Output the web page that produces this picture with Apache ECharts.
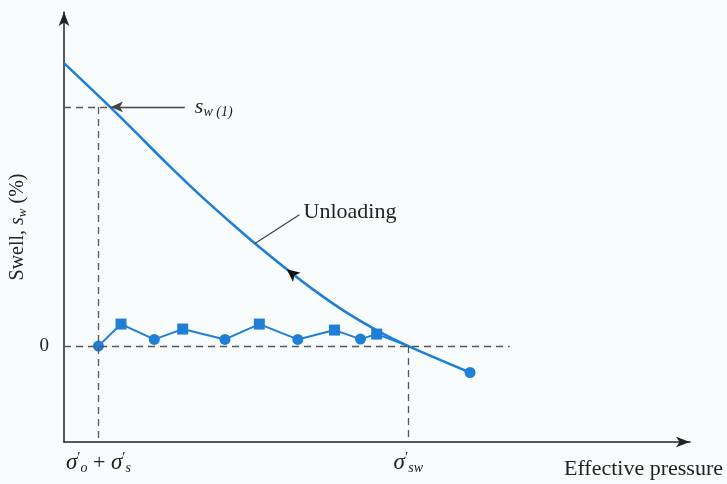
<!DOCTYPE html>
<html>
<head>
<meta charset="utf-8">
<script src="https://cdn.jsdelivr.net/npm/echarts@6/dist/echarts.min.js"></script>
<style>html,body{margin:0;padding:0;background:#f8fcfc;}#c{width:727px;height:484px;}</style>
</head>
<body>
<div id="c"></div>
<script>
// Unloading curve (effective pressure, swell)
const unloadX = [0, 7.35, 11.07, 16.41, 21.73, 27.04, 30.51, 35.58, 39.82, 45.16, 50.48, 55.0, 64.86];
const unloadY = [8.47, 7.16, 6.47, 5.47, 4.52, 3.63, 3.07, 2.30, 1.69, 1.00, 0.42, 0, -0.79];
// Swell test points (alternating circle / square), last point joins curve
const swellX = [5.5, 9.11, 14.42, 18.96, 25.72, 31.2, 37.35, 43.21, 47.36, 49.95, 55.0];
const swellY = [0, 0.66, 0.2, 0.51, 0.2, 0.66, 0.2, 0.48, 0.21, 0.36, 0];
const endPoint = [64.86, -0.79];
// Key abscissae and ordinates
const sigmaStart = 5.5;   // σ'o + σ's
const sigmaSw = 55.0;     // σ'sw
const sw1 = 7.16;         // s_w(1)
const sw1X = 7.1;
const zeroLineEnd = 71.2;
const xTickValues = [sigmaStart, sigmaSw];
const yTickValues = [0];

const blue = '#1f7fd6';
const serif = 'Liberation Serif, Times New Roman, serif';
const ink = '#222';

const chart = echarts.init(document.getElementById('c'));
const dash = {type: [7, 5], color: '#555', width: 1.3};
const yMin = -2.87;
chart.setOption({
  backgroundColor: '#f8fcfc',
  animation: false,
  grid: {left: 64, right: 37, top: 12, bottom: 42, containLabel: false, outerBoundsMode: 'none'},
  xAxis: {
    type: 'value', min: 0, max: 100,
    splitLine: {show: false},
    axisTick: {show: false},
    axisLine: {onZero: false, symbol: ['none', 'arrow'], symbolSize: [8, 14], lineStyle: {color: ink, width: 1.5}},
    axisLabel: {
      customValues: xTickValues, margin: 9,
      formatter: v => v < 20 ? '{s|σ}{p|′}{b|o}{m| + }{s|σ}{p|′}{b|s}' : '{s|σ}{p|′}{b|sw}',
      rich: {
        s: {fontFamily: serif, fontStyle: 'italic', fontSize: 23, color: ink, lineHeight: 24},
        p: {fontFamily: serif, fontSize: 15, color: ink, verticalAlign: 'top', lineHeight: 24},
        b: {fontFamily: serif, fontStyle: 'italic', fontSize: 14, color: ink, verticalAlign: 'bottom', lineHeight: 20},
        m: {fontFamily: serif, fontSize: 22, color: ink, lineHeight: 24}
      }
    },
    name: 'Effective pressure', nameLocation: 'end', nameGap: 33,
    nameTextStyle: {fontFamily: serif, fontSize: 22, color: ink, align: 'right', verticalAlign: 'top', padding: [16, 0, 0, 0]}
  },
  yAxis: {
    type: 'value', min: yMin, max: 10,
    splitLine: {show: false},
    axisTick: {show: false},
    axisLine: {symbol: ['none', 'arrow'], symbolSize: [8, 14], lineStyle: {color: ink, width: 1.5}},
    axisLabel: {customValues: yTickValues, margin: 15, fontFamily: serif, fontSize: 19, color: ink},
    name: '{t|Swell, }{i|s}{w|w}{t| (%)}', nameLocation: 'middle', nameGap: 27, nameRotate: 90,
    nameTextStyle: {
      rich: {
        t: {fontFamily: serif, fontSize: 20, color: ink, lineHeight: 22},
        i: {fontFamily: serif, fontStyle: 'italic', fontSize: 20, color: ink, lineHeight: 22},
        w: {fontFamily: serif, fontStyle: 'italic', fontSize: 13, color: ink, verticalAlign: 'bottom', lineHeight: 18}
      }
    }
  },
  series: [
    {
      type: 'line', name: 'guides', data: [], silent: true,
      markLine: {
        silent: true, symbol: 'none', label: {show: false}, lineStyle: dash,
        data: [
          [{coord: [0, 0]}, {coord: [zeroLineEnd, 0]}],
          [{coord: [sigmaStart, sw1]}, {coord: [sigmaStart, yMin]}],
          [{coord: [0, sw1]}, {coord: [sw1X, sw1]}],
          [{coord: [sigmaSw, 0]}, {coord: [sigmaSw, yMin]}]
        ]
      }
    },
    {
      type: 'line', name: 'Unloading',
      data: unloadX.map((x, i) => [x, unloadY[i]]),
      smooth: 0.3, showSymbol: false, symbol: 'none',
      lineStyle: {color: blue, width: 2.6}, z: 3,
      markLine: {
        silent: true,
        data: [
          [{coord: [19.3, sw1], symbol: 'none', label: {show: true, position: 'start', distance: 10,
              formatter: '{i|s}{w|w (1)}',
              rich: {
                i: {fontFamily: serif, fontStyle: 'italic', fontSize: 22, color: ink, lineHeight: 24},
                w: {fontFamily: serif, fontStyle: 'italic', fontSize: 14, color: ink, verticalAlign: 'bottom', lineHeight: 18}
              }}},
           {coord: [sw1X + 0.4, sw1], symbol: 'arrow', symbolSize: [8, 12]}],
          [{coord: [30.5, 3.07], symbol: 'none'},
           {coord: [37.6, 3.93], symbol: 'none', label: {show: true, position: 'end', distance: 5,
              formatter: 'Unloading', fontFamily: serif, fontSize: 22, color: ink}}]
        ],
        lineStyle: {type: 'solid', color: '#444', width: 1.3},
        label: {show: false}
      },
      markPoint: {
        silent: true,
        data: [{coord: [35.58, 2.30], symbol: 'arrow', symbolSize: [9, 13], symbolRotate: 51, itemStyle: {color: '#111'}, label: {show: false}}]
      }
    },
    {
      type: 'line', name: 'Swell test',
      data: swellX.map((x, i) => [x, swellY[i]]),
      symbol: (v, p) => p.dataIndex === swellX.length - 1 ? 'none' : (p.dataIndex % 2 ? 'rect' : 'circle'),
      symbolSize: 11, showAllSymbol: true,
      lineStyle: {color: blue, width: 2},
      itemStyle: {color: blue, opacity: 1}, z: 4
    },
    {
      type: 'scatter', name: 'end', data: [endPoint], symbol: 'circle', symbolSize: 11,
      itemStyle: {color: blue, opacity: 1}, z: 5
    }
  ]
});
</script>
</body>
</html>
